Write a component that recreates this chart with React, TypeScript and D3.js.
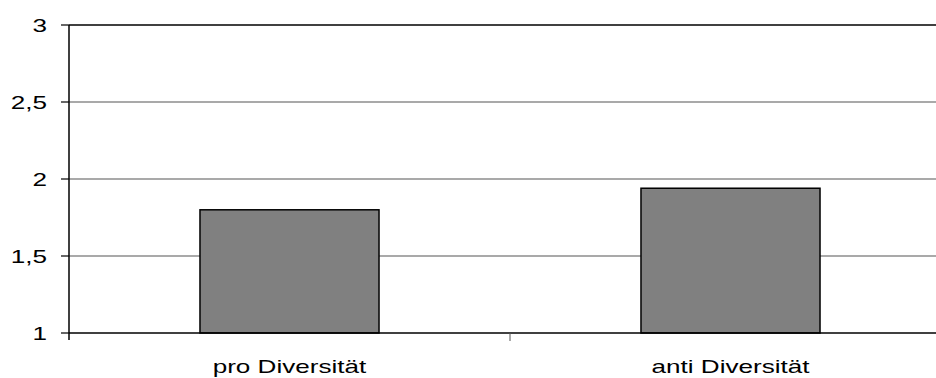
import React from "react";
import * as d3 from "d3";

const categories = ["pro Diversität", "anti Diversität"];
const values = [1.8, 1.94];
const yTicks = [1, 1.5, 2, 2.5, 3];
const yTickLabels = ["1", "1,5", "2", "2,5", "3"];

const W = 936;
const H = 378;
const left = 69;
const top = 25;
const bottom = 333;
const right = 951; // plot area runs past the visible right edge
const FONT = "'Liberation Sans', Arial, sans-serif";
const SX = 1.45; // horizontal stretch of the text

export default function App() {
  const y = d3.scaleLinear().domain([1, 3]).range([bottom, top]);
  const p = 0.594;
  const x = d3
    .scaleBand<string>()
    .domain(categories)
    .range([left, right])
    .paddingInner(p)
    .paddingOuter(p / 2);
  const step = x.step();
  const catBounds = d3.range(categories.length + 1).map((i) => left + i * step);

  return (
    <svg
      width={W}
      height={H}
      style={{ position: "absolute", left: 0, top: 0, background: "#fff" }}
    >
      <rect x={0} y={0} width={W} height={H} fill="#fff" />
      {/* horizontal gridlines */}
      {yTicks
        .filter((t) => t !== 1 && t !== 3)
        .map((t) => (
          <line
            key={"g" + t}
            x1={left}
            x2={W}
            y1={y(t)}
            y2={y(t)}
            stroke="#8c8c8c"
            strokeWidth={1.3}
          />
        ))}
      {/* top frame line */}
      <line x1={left} x2={W} y1={y(3)} y2={y(3)} stroke="#000" strokeWidth={1.5} />
      {/* bars */}
      {categories.map((c, i) => (
        <rect
          key={c}
          x={x(c)}
          y={y(values[i])}
          width={x.bandwidth()}
          height={y(1) - y(values[i])}
          fill="#808080"
          stroke="#000"
          strokeWidth={1.5}
        />
      ))}
      {/* y axis */}
      <line x1={left} x2={left} y1={top} y2={bottom + 7} stroke="#000" strokeWidth={1.5} />
      {yTicks.map((t, i) => (
        <g key={"t" + t}>
          <line x1={left - 8} x2={left} y1={y(t)} y2={y(t)} stroke="#000" strokeWidth={1.2} />
          <text
            transform={`translate(${47},${y(t) + 6.5}) scale(${SX},1)`}
            textAnchor="end"
            fontFamily={FONT}
            fontSize={18}
            fill="#000"
          >
            {yTickLabels[i]}
          </text>
        </g>
      ))}
      {/* x axis */}
      <line x1={left} x2={W} y1={bottom} y2={bottom} stroke="#000" strokeWidth={1.5} />
      {catBounds.slice(1).map((b, i) => (
        <line key={"c" + i} x1={b} x2={b} y1={bottom} y2={bottom + 8} stroke="#555" strokeWidth={1} />
      ))}
      {categories.map((c) => (
        <text
          key={"l" + c}
          transform={`translate(${(x(c) as number) + x.bandwidth() / 2},${373}) scale(${SX},1)`}
          textAnchor="middle"
          fontFamily={FONT}
          fontSize={18}
          fill="#000"
        >
          {c}
        </text>
      ))}
    </svg>
  );
}
